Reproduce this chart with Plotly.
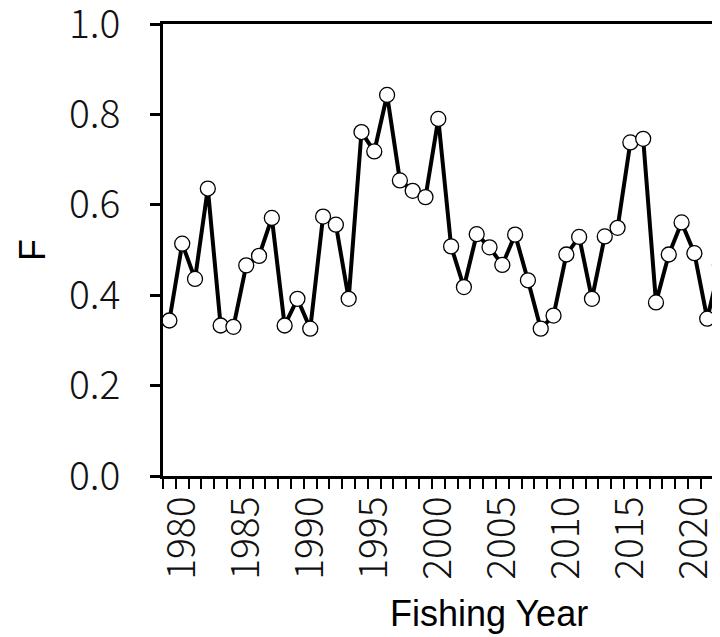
import plotly.graph_objects as go

years = list(range(1979, 2023))
f_values = [0.344, 0.514, 0.436, 0.636, 0.333, 0.330, 0.466, 0.487, 0.571, 0.333,
            0.392, 0.326, 0.574, 0.556, 0.392, 0.761, 0.718, 0.843, 0.654, 0.631,
            0.617, 0.790, 0.508, 0.418, 0.535, 0.506, 0.467, 0.534, 0.433, 0.326,
            0.355, 0.490, 0.529, 0.392, 0.530, 0.549, 0.738, 0.746, 0.384, 0.490,
            0.561, 0.493, 0.348, 0.467]
x_tick_vals = list(range(1980, 2021, 5))
y_tick_vals = [0.0, 0.2, 0.4, 0.6, 0.8, 1.0]
y_tick_text = ["0.0", "0.2", "0.4", "0.6", "0.8", "1.0"]

# page offset of the plot div (body margin)
OFF = 8
W, H = 720, 637
L = 162.5 - OFF
T = 24.3 - OFF
B_px = 476.3 - OFF
px_per_year = 12.816
plot_w = W - L
x_lo = 1978.5
x_hi = x_lo + plot_w / px_per_year

tick_font = dict(family="Noto Sans CJK JP", size=39, weight=300, color="#111111")
title_font = dict(family="Liberation Sans, Arial, sans-serif", size=36, color="black")

fig = go.Figure()
fig.add_trace(go.Scatter(
    x=years, y=f_values, mode="lines+markers",
    line=dict(color="black", width=4),
    marker=dict(size=15, color="white", line=dict(color="black", width=1.3)),
    cliponaxis=False, showlegend=False,
))

fig.update_layout(
    width=W, height=H,
    margin=dict(l=L, r=0, t=T, b=H - B_px, pad=0, autoexpand=False),
    paper_bgcolor="white", plot_bgcolor="white",
    xaxis=dict(
        range=[x_lo, x_hi], showgrid=False, zeroline=False, automargin=False,
        showline=True, linecolor="black", linewidth=2.6, mirror=True,
        tickmode="array", tickvals=x_tick_vals,
        ticks="outside", ticklen=10, tickcolor="rgba(0,0,0,0)", tickwidth=1,
        tickangle=-90, tickfont=tick_font, ticklabelstandoff=-8,
        ticklabeloverflow="allow",
        minor=dict(ticks="outside", tick0=1978.5, dtick=1, ticklen=10,
                   tickwidth=2.4, tickcolor="black", showgrid=False),
    ),
    yaxis=dict(
        range=[0, 1], showgrid=False, zeroline=False, automargin=False,
        showline=True, linecolor="black", linewidth=2.6,
        tickmode="array", tickvals=y_tick_vals, ticktext=y_tick_text,
        ticks="outside", ticklen=10, tickwidth=2.6, tickcolor="black",
        tickfont=tick_font, ticklabelstandoff=22, ticklabeloverflow="allow",
    ),
    annotations=[
        dict(text="Fishing Year", xref="paper", yref="paper",
             x=(489 - OFF - L) / plot_w, y=0, xanchor="center", yanchor="middle",
             yshift=-(614 - 476.3), showarrow=False, font=title_font),
        dict(text="F", xref="paper", yref="paper",
             x=0, y=0.5, xanchor="center", yanchor="middle", xshift=31.5 - 162.5,
             textangle=-90, showarrow=False, font=title_font),
    ],
)

fig.write_html("out.html")
